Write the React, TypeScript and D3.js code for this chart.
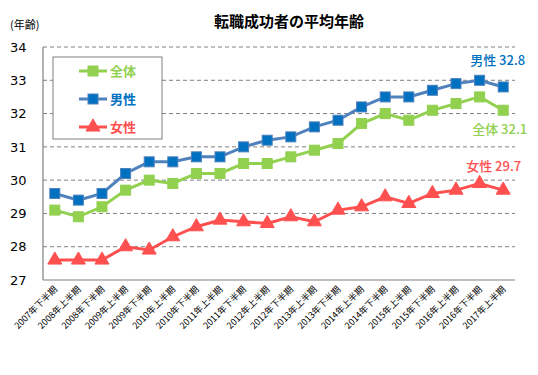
import React from "react";
import * as d3 from "d3";

const categories = [
  "2007年下半期", "2008年上半期", "2008年下半期", "2009年上半期", "2009年下半期",
  "2010年上半期", "2010年下半期", "2011年上半期", "2011年下半期", "2012年上半期",
  "2012年下半期", "2013年上半期", "2013年下半期", "2014年上半期", "2014年下半期",
  "2015年上半期", "2015年下半期", "2016年上半期", "2016年下半期", "2017年上半期",
];
const overall = [29.1, 28.9, 29.2, 29.7, 30.0, 29.9, 30.2, 30.2, 30.5, 30.5, 30.7, 30.9, 31.1, 31.7, 32.0, 31.8, 32.1, 32.3, 32.5, 32.1];
const men = [29.6, 29.4, 29.6, 30.2, 30.55, 30.55, 30.7, 30.7, 31.0, 31.2, 31.3, 31.6, 31.8, 32.2, 32.5, 32.5, 32.7, 32.9, 33.0, 32.8];
const women = [27.6, 27.6, 27.6, 28.0, 27.9, 28.3, 28.6, 28.8, 28.75, 28.7, 28.9, 28.75, 29.1, 29.2, 29.5, 29.3, 29.6, 29.7, 29.9, 29.7];
const yTicks = [27, 28, 29, 30, 31, 32, 33, 34];

const W = 538, H = 375;
const left = 43, right = 515, top = 47, bottom = 280;
const FONT = "'Noto Sans CJK JP', sans-serif";
const NUMFONT = "Verdana, 'DejaVu Sans', sans-serif";

const series = [
  { name: "全体", data: overall, line: "#92D050", fill: "#92D050", stroke: "#92D050", text: "#92D050", marker: "square" },
  { name: "男性", data: men, line: "#4F81BD", fill: "#0070C0", stroke: "#4F81BD", text: "#0070C0", marker: "square" },
  { name: "女性", data: women, line: "#FF5050", fill: "#FF5050", stroke: "#FF5050", text: "#FF5050", marker: "triangle" },
];

function Marker({ type, x, y, fill, stroke }: any) {
  if (type === "square") {
    return <rect x={x - 5} y={y - 5} width={10} height={10} fill={fill} stroke={stroke} strokeWidth={1} />;
  }
  const tri = d3.symbol().type(d3.symbolTriangle).size(85)();
  return <path d={tri || ""} transform={`translate(${x},${y})`} fill={fill} stroke={stroke} strokeWidth={1} />;
}

export default function App() {
  const x = d3.scaleBand<string>().domain(categories).range([left, right]);
  const y = d3.scaleLinear().domain([27, 34]).range([bottom, top]);
  const cx = (c: string) => (x(c) as number) + x.bandwidth() / 2;
  const line = d3.line<number>().x((_, i) => cx(categories[i])).y((d) => y(d));
  const lastIdx = categories.length - 1;
  const lastX = cx(categories[lastIdx]);

  return (
    <svg width={W} height={H} style={{ position: "absolute", left: 0, top: 0, background: "#fff" }}>
      <text x={289} y={27} textAnchor="middle" fontFamily={FONT} fontSize={15} fontWeight="bold" fill="#000">転職成功者の平均年齢</text>
      <text x={10} y={29} fontFamily={FONT} fontSize={11} fill="#000">(年齢)</text>

      {yTicks.filter((t) => t > 27).map((t) => (
        <line key={t} x1={left} x2={right} y1={y(t)} y2={y(t)} stroke="#808080" strokeDasharray="4,3" strokeWidth={1} />
      ))}
      {yTicks.map((t) => (
        <text key={"l" + t} x={10} y={y(t)} dy="0.36em" fontFamily={NUMFONT} fontSize={13} fill="#000">{t}</text>
      ))}
      <line x1={left} x2={left} y1={top} y2={bottom} stroke="#808080" strokeWidth={1.2} />
      <line x1={left} x2={right} y1={bottom} y2={bottom} stroke="#808080" strokeWidth={1.2} />

      {categories.map((c) => (
        <text key={c} transform={`translate(${cx(c) + 3},${bottom + 10}) rotate(-45)`} textAnchor="end" fontFamily={FONT} fontSize={9} fill="#000">{c}</text>
      ))}

      {series.map((s) => (
        <g key={s.name}>
          <path d={line(s.data) || ""} fill="none" stroke={s.line} strokeWidth={3} />
          {s.data.map((v, i) => (
            <Marker key={i} type={s.marker} x={cx(categories[i])} y={y(v)} fill={s.fill} stroke={s.stroke} />
          ))}
        </g>
      ))}

      <text x={lastX + 22} y={y(men[lastIdx]) - 22} textAnchor="end" fontFamily={FONT} fontSize={13} fontWeight={500} fill="#0070C0">{`男性 ${men[lastIdx]}`}</text>
      <text x={lastX + 24} y={y(overall[lastIdx]) + 24} textAnchor="end" fontFamily={FONT} fontSize={13} fontWeight={500} fill="#92D050">{`全体 ${overall[lastIdx]}`}</text>
      <text x={lastX + 18} y={y(women[lastIdx]) - 19} textAnchor="end" fontFamily={FONT} fontSize={13} fontWeight={500} fill="#FF5050">{`女性 ${women[lastIdx]}`}</text>

      <rect x={53} y={57} width={109} height={82} fill="#fff" stroke="#808080" strokeWidth={1} />
      {series.map((s, i) => {
        const ly = 71 + i * 28;
        return (
          <g key={"lg" + s.name}>
            <line x1={79} x2={107} y1={ly} y2={ly} stroke={s.line} strokeWidth={3} />
            <Marker type={s.marker} x={93} y={ly} fill={s.fill} stroke={s.stroke} />
            <text x={110} y={ly} dy="0.36em" fontFamily={FONT} fontSize={13} fontWeight="bold" fill={s.text}>{s.name}</text>
          </g>
        );
      })}
    </svg>
  );
}
